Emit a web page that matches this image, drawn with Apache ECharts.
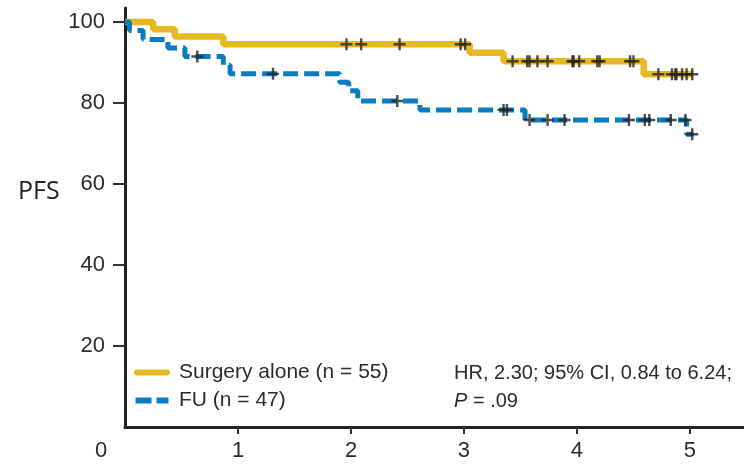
<!DOCTYPE html>
<html><head><meta charset="utf-8">
<script src="https://cdn.jsdelivr.net/npm/echarts@6/dist/echarts.min.js"></script>
<style>html,body{margin:0;padding:0;background:#fff}#c{width:744px;height:464px}</style>
</head><body><div id="c"></div>
<script>
// ---- data ----
const seriesNames = ['Surgery alone (n = 55)', 'FU (n = 47)'];
const surgeryTimes = [0, 0.25, 0.44, 0.87, 3.05, 3.35, 4.59, 5.03];
const surgeryPFS   = [100, 98.2, 96.4, 94.5, 92.4, 90.3, 87.1, 87.1];
const surgeryCensor = [1.96, 2.09, 2.43, 2.97, 3.01, 3.43, 3.56, 3.58, 3.65, 3.74, 3.96, 3.97, 4.02, 4.18, 4.20, 4.47, 4.50, 4.72, 4.84, 4.87, 4.88, 4.93, 4.97, 5.02];
const fuTimes = [0, 0.04, 0.16, 0.38, 0.53, 0.87, 0.93, 1.90, 1.98, 2.06, 2.61, 3.54, 4.97, 5.03];
const fuPFS   = [100, 97.9, 95.7, 93.6, 91.5, 89.4, 87.2, 85.1, 83.0, 80.5, 78.3, 75.8, 72.3, 72.3];
const fuCensor = [0.64, 1.31, 2.41, 3.35, 3.38, 3.58, 3.74, 3.89, 4.46, 4.60, 4.64, 4.83, 4.96, 5.02];
const xTicks = [1, 2, 3, 4, 5];
const yTicks = [20, 40, 60, 80, 100];
const statLine1 = 'HR, 2.30; 95% CI, 0.84 to 6.24;';
const statLine2 = '{i|P} = .09';
const yAxisTitle = 'PFS';
const originLabel = '0';

// ---- helpers ----
function pairs(ts, vs) { return ts.map((t, i) => [t, vs[i]]); }
function survivalAt(ts, vs, t) { let s = vs[0]; for (let i = 0; i < ts.length; i++) { if (ts[i] <= t) s = vs[i]; } return s; }
function censorPts(cs, ts, vs) { return cs.map(t => [t, survivalAt(ts, vs, t)]); }

const YELLOW = '#E8B820', BLUE = '#0A7CC1', INK = '#2b2b2b';
const FONT = '"Liberation Sans", Arial, sans-serif';
const plus = 'path://M4,0 H6 V4 H10 V6 H6 V10 H4 V6 H0 V4 H4 Z';
const iconSolid = 'path://M3,0 H33 A3,3 0 0 1 33,6 H3 A3,3 0 0 1 3,0 Z';
const iconDash = 'path://M1,0 H17 V6 H1 Z M22,0 H34 V6 H22 Z';

const chart = echarts.init(document.getElementById('c'), null, {renderer: 'canvas'});
chart.setOption({
  animation: false,
  backgroundColor: '#fff',
  grid: {left: 125, top: 8, width: 619, height: 419, containLabel: false},
  xAxis: {
    type: 'value', min: 0, max: 5.478,
    axisLine: {show: true, lineStyle: {color: '#222', width: 3}},
    axisTick: {show: true, customValues: xTicks, length: 7, inside: false, lineStyle: {color: '#333', width: 2}},
    axisLabel: {customValues: xTicks, margin: 13, color: INK, fontSize: 22, fontFamily: FONT},
    splitLine: {show: false}
  },
  yAxis: {
    type: 'value', min: 0, max: 103.46,
    axisLine: {show: true, lineStyle: {color: '#222', width: 3}},
    axisTick: {show: true, customValues: yTicks, length: 12, lineStyle: {color: '#333', width: 2}},
    axisLabel: {customValues: yTicks, margin: 20, color: INK, fontSize: 22, fontFamily: FONT},
    splitLine: {show: false}
  },
  legend: {
    orient: 'vertical', left: 134, top: 362, padding: 0, itemWidth: 36, itemHeight: 6, itemGap: 7,
    selectedMode: false,
    data: [
      {name: seriesNames[0], icon: iconSolid, itemStyle: {color: YELLOW}},
      {name: seriesNames[1], icon: iconDash, itemStyle: {color: BLUE}}
    ],
    textStyle: {color: INK, fontSize: 21, fontFamily: FONT, padding: [0, 0, 0, 4]}
  },
  graphic: [
    {type: 'text', left: 18, top: 179, style: {text: yAxisTitle, fill: '#222', font: '25px "Open Sans", sans-serif'}},
    {type: 'text', left: 95, top: 440, style: {text: originLabel, fill: INK, font: '22px ' + FONT}},
    {type: 'text', left: 454, top: 363, style: {text: statLine1, fill: INK, font: '20px ' + FONT}},
    {type: 'text', left: 454, top: 391, style: {text: statLine2, fill: INK, font: '20px ' + FONT,
      rich: {i: {fontStyle: 'italic', fontSize: 20, fontFamily: FONT, fill: INK}}}}
  ],
  series: [
    {name: seriesNames[0], type: 'line', step: 'end', symbol: 'none', data: pairs(surgeryTimes, surgeryPFS),
     lineStyle: {color: YELLOW, width: 6.5}, itemStyle: {color: YELLOW}, z: 2},
    {name: seriesNames[1], type: 'line', step: 'end', symbol: 'none', data: pairs(fuTimes, fuPFS),
     lineStyle: {color: BLUE, width: 5, type: [15, 6]}, itemStyle: {color: BLUE}, z: 3},
    {name: 'surgery-censor', type: 'scatter', symbol: plus, symbolSize: 12, data: censorPts(surgeryCensor, surgeryTimes, surgeryPFS),
     itemStyle: {color: '#222'}, z: 5, silent: true},
    {name: 'fu-censor', type: 'scatter', symbol: plus, symbolSize: 12, data: censorPts(fuCensor, fuTimes, fuPFS),
     itemStyle: {color: '#222'}, z: 5, silent: true}
  ]
});
</script>
</body></html>
